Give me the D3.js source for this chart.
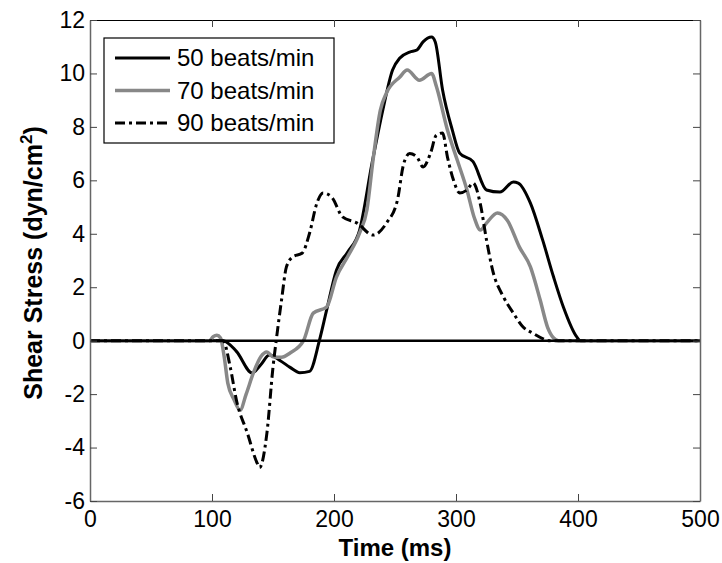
<!DOCTYPE html>
<html>
<head>
<meta charset="utf-8">
<script src="https://cdn.jsdelivr.net/npm/d3@7"></script>
<style>
  html, body { margin: 0; padding: 0; background: #fff; }
  svg { display: block; font-family: "Liberation Sans", Arial, Helvetica, sans-serif; }
</style>
</head>
<body>
<svg id="chart" width="722" height="563"></svg>
<script>
// Wall shear stress over one cardiac cycle at three heart rates
const time50  = [0, 100, 109, 120, 133, 140, 147, 156, 164, 172, 180, 188, 194, 202, 211, 221, 231, 240, 248, 254, 262, 268, 273, 280, 283, 289, 297, 303, 314, 325, 336, 347, 351, 361, 371, 380, 388, 399, 402, 500];
const shear50 = [0, 0, 0, -0.4, -1.21, -0.9, -0.54, -0.75, -1.0, -1.2, -1.15, 0, 1.15, 2.64, 3.3, 4.14, 6.6, 8.63, 10.13, 10.58, 10.8, 10.88, 11.18, 11.36, 11.18, 9.38, 7.88, 7.02, 6.7, 5.64, 5.56, 5.94, 5.9, 5.15, 3.77, 2.38, 1.26, 0.14, 0, 0];

const time70  = [0, 98, 101, 104, 107, 110, 113, 118, 123, 128, 134, 140, 145, 150, 157, 164, 175, 183, 194, 202, 211, 221, 227, 232, 238, 243, 254, 260, 270, 280, 284, 293, 301, 309, 315, 320, 325, 334, 342, 352, 361, 369, 375, 380, 384, 500];
const shear70 = [0, 0, 0.15, 0.2, 0.1, -0.6, -1.6, -2.2, -2.6, -2.0, -1.2, -0.6, -0.42, -0.6, -0.62, -0.46, 0, 1.03, 1.26, 2.38, 3.13, 4.03, 4.9, 6.76, 8.63, 9.27, 9.87, 10.13, 9.75, 10.0, 9.5, 7.88, 6.76, 5.64, 4.6, 4.14, 4.4, 4.78, 4.51, 3.5, 2.76, 1.52, 0.51, 0.1, 0, 0];

const time90  = [0, 106, 109, 115, 120, 129, 137, 139, 145, 150, 153, 157, 161, 166, 174, 180, 186, 191, 198, 207, 219, 232, 243, 252, 257, 262, 268, 273, 279, 284, 289, 293, 298, 303, 309, 314, 320, 325, 330, 339, 347, 355, 363, 371, 376, 500];
const shear90 = [0, 0, 0, -1.0, -2.22, -3.46, -4.58, -4.75, -3.46, -0.99, 0.14, 1.52, 2.76, 3.13, 3.28, 4.03, 5.15, 5.53, 5.38, 4.63, 4.4, 3.95, 4.4, 5.26, 6.6, 7.0, 6.87, 6.5, 7.0, 7.7, 7.77, 6.87, 6.0, 5.53, 5.64, 5.9, 5.1, 3.77, 2.64, 1.63, 1.03, 0.51, 0.28, 0.08, 0, 0];

const seriesNames = ["50 beats/min", "70 beats/min", "90 beats/min"];
const xTicks = [0, 100, 200, 300, 400, 500];
const yTicks = [-6, -4, -2, 0, 2, 4, 6, 8, 10, 12];

const styles = [
  { stroke: "#000", width: 3, dash: null },
  { stroke: "#888", width: 3.5, dash: null },
  { stroke: "#000", width: 3, dash: "10,4,3,4" }
];
const series = [
  { name: seriesNames[0], t: time50, v: shear50 },
  { name: seriesNames[1], t: time70, v: shear70 },
  { name: seriesNames[2], t: time90, v: shear90 }
];

const svg = d3.select("#chart");
const box = { left: 90, right: 700, top: 20, bottom: 501 };

const x = d3.scaleLinear().domain([0, 500]).range([box.left, box.right]);
const y = d3.scaleLinear().domain([-6, 12]).range([box.bottom, box.top]);

const plot = svg.append("g");
plot.append("defs").append("clipPath").attr("id", "clip")
  .append("rect").attr("x", box.left).attr("y", box.top)
  .attr("width", box.right - box.left).attr("height", box.bottom - box.top);

const line = d3.line()
  .x(d => x(d[0]))
  .y(d => y(d[1]))
  .curve(d3.curveMonotoneX);

series.forEach((s, i) => {
  const pts = s.t.map((t, k) => [t, s.v[k]]);
  plot.append("path")
    .attr("d", line(pts))
    .attr("fill", "none")
    .attr("stroke", styles[i].stroke)
    .attr("stroke-width", styles[i].width)
    .attr("stroke-dasharray", styles[i].dash)
    .attr("stroke-linejoin", "round")
    .attr("clip-path", "url(#clip)");
});

// zero reference line
plot.append("line")
  .attr("x1", x(0)).attr("x2", x(500))
  .attr("y1", y(0)).attr("y2", y(0))
  .attr("stroke", "#000").attr("stroke-width", 2.5);

// axes with inward ticks on all four sides; plain hyphen for negatives
const plain = d => String(d);
const tickLen = 7;
const axB = svg.append("g").attr("transform", `translate(0,${box.bottom})`)
  .call(d3.axisBottom(x).tickValues(xTicks).tickFormat(plain).tickSizeInner(-tickLen).tickSizeOuter(0).tickPadding(10));
const axT = svg.append("g").attr("transform", `translate(0,${box.top})`)
  .call(d3.axisTop(x).tickValues(xTicks).tickSizeInner(-tickLen).tickSizeOuter(0).tickFormat(""));
const axL = svg.append("g").attr("transform", `translate(${box.left},0)`)
  .call(d3.axisLeft(y).tickValues(yTicks).tickFormat(plain).tickSizeInner(-tickLen).tickSizeOuter(0).tickPadding(5));
const axR = svg.append("g").attr("transform", `translate(${box.right},0)`)
  .call(d3.axisRight(y).tickValues(yTicks).tickSizeInner(-tickLen).tickSizeOuter(0).tickFormat(""));

[axB, axL, axR].forEach(a => a.select(".domain").attr("stroke", "#666").attr("stroke-width", 1.5));
axT.select(".domain").attr("stroke", "#000").attr("stroke-width", 1.2);
[axB, axT, axL, axR].forEach(a => a.selectAll(".tick line").attr("stroke", "#444").attr("stroke-width", 1));
[axB, axL].forEach(a => a.selectAll(".tick text")
  .attr("font-size", 23).attr("fill", "#000")
  .attr("font-family", "'Liberation Sans', Arial, sans-serif"));
axB.selectAll(".tick text").attr("dy", "0.68em");

// axis titles
svg.append("text")
  .attr("x", (box.left + box.right) / 2).attr("y", 556)
  .attr("text-anchor", "middle")
  .attr("font-size", 24).attr("font-weight", "bold")
  .text("Time (ms)");

const yTitle = svg.append("text")
  .attr("transform", `translate(42,263) rotate(-90)`)
  .attr("text-anchor", "middle")
  .attr("font-size", 25).attr("font-weight", "bold");
yTitle.append("tspan").text("Shear Stress (dyn/cm");
yTitle.append("tspan").attr("font-size", 17).attr("dy", -10).text("2");
yTitle.append("tspan").attr("dy", 10).text(")");

// legend
const lg = svg.append("g");
lg.append("rect")
  .attr("x", 104).attr("y", 38).attr("width", 230).attr("height", 105)
  .attr("fill", "#fff").attr("stroke", "#000").attr("stroke-width", 1.2);
series.forEach((s, i) => {
  const ly = 58 + i * 32.5;
  lg.append("line")
    .attr("x1", 115).attr("x2", 170).attr("y1", ly).attr("y2", ly)
    .attr("stroke", styles[i].stroke)
    .attr("stroke-width", styles[i].width)
    .attr("stroke-dasharray", styles[i].dash);
  lg.append("text")
    .attr("x", 177).attr("y", ly).attr("dy", "0.35em")
    .attr("font-size", 24)
    .text(s.name);
});
</script>
</body>
</html>
